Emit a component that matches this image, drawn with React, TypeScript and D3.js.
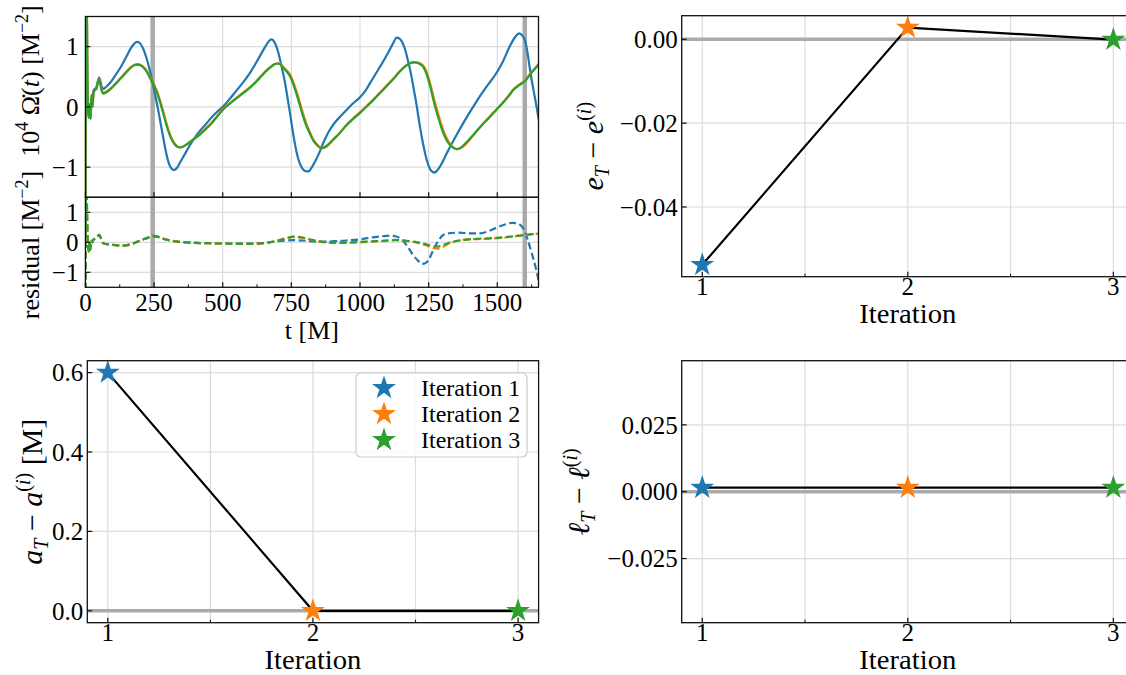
import React from 'react';
import * as d3 from 'd3';

const FONT = "'Liberation Serif', 'Times New Roman', Tinos, 'DejaVu Serif', 'Noto Serif', 'FreeSerif', serif";
const COLORS = ['#1f77b4', '#ff7f0e', '#2ca02c'];

// ---------- top-left: 10^4 dOmega/dt vs t ----------
const tBlue = [0, 3, 7, 10, 13, 16, 19, 22, 26, 30, 35, 40, 45, 50, 55, 60, 65, 75, 90, 110, 130, 150, 165, 178, 188, 198, 210, 222, 235, 245, 255, 265, 275, 285, 295, 305, 315, 322, 332, 345, 360, 380, 400, 417, 440, 460, 480, 500, 525, 550, 575, 600, 620, 640, 655, 668, 678, 688, 698, 708, 718, 727, 735, 745, 755, 765, 775, 785, 795, 805, 812, 822, 835, 850, 866, 885, 905, 930, 951, 975, 1000, 1020, 1036, 1060, 1085, 1105, 1120, 1134, 1145, 1155, 1165, 1175, 1185, 1194, 1206, 1218, 1230, 1243, 1255, 1265, 1271, 1280, 1295, 1316, 1345, 1376, 1405, 1437, 1465, 1498, 1520, 1546, 1565, 1580, 1592, 1601, 1610, 1618, 1625, 1635, 1643, 1650, 1660];
const omegaBlue = [-3, 3, 0.6, -0.05, -0.15, 0.05, -0.15, 0.2, 0.1, 0.28, 0.3, 0.33, 0.42, 0.49, 0.42, 0.33, 0.3, 0.33, 0.4, 0.53, 0.67, 0.84, 0.97, 1.05, 1.08, 1.06, 0.97, 0.82, 0.6, 0.4, 0.18, -0.05, -0.3, -0.55, -0.78, -0.95, -1.03, -1.045, -1.02, -0.92, -0.8, -0.64, -0.5, -0.4, -0.28, -0.17, -0.08, 0.0, 0.13, 0.27, 0.41, 0.57, 0.72, 0.88, 1.0, 1.09, 1.12, 1.08, 0.97, 0.8, 0.6, 0.4, 0.18, -0.1, -0.4, -0.66, -0.86, -0.98, -1.05, -1.07, -1.07, -1.02, -0.92, -0.78, -0.6, -0.42, -0.28, -0.15, -0.05, 0.06, 0.16, 0.27, 0.39, 0.57, 0.76, 0.92, 1.05, 1.15, 1.13, 1.06, 0.94, 0.76, 0.56, 0.34, 0.03, -0.32, -0.62, -0.88, -1.03, -1.08, -1.09, -1.06, -0.96, -0.77, -0.52, -0.27, -0.05, 0.18, 0.36, 0.57, 0.75, 1.01, 1.16, 1.22, 1.18, 1.1, 0.9, 0.65, 0.45, 0.2, 0.0, -0.18, -0.4];

const tFit = [0, 3, 7, 10, 13, 16, 19, 22, 26, 30, 35, 40, 45, 50, 55, 60, 65, 75, 90, 110, 130, 150, 165, 178, 190, 200, 212, 225, 235, 245, 255, 265, 275, 285, 295, 305, 315, 325, 335, 345, 355, 370, 390, 417, 440, 460, 480, 500, 525, 550, 575, 600, 625, 645, 660, 675, 690, 700, 708, 718, 730, 745, 755, 765, 775, 782, 792, 805, 818, 830, 845, 858, 866, 880, 900, 925, 951, 975, 1000, 1025, 1050, 1073, 1100, 1125, 1146, 1165, 1180, 1192, 1202, 1215, 1231, 1242, 1255, 1267, 1280, 1292, 1303, 1315, 1327, 1340, 1352, 1365, 1385, 1413, 1440, 1470, 1498, 1525, 1545, 1558, 1580, 1601, 1625, 1650, 1660];
const omegaOrange = [-3, 3, 0.5, -0.1, -0.18, 0.0, -0.2, 0.15, 0.0, 0.25, 0.28, 0.3, 0.4, 0.46, 0.37, 0.27, 0.23, 0.25, 0.3, 0.39, 0.49, 0.59, 0.66, 0.7, 0.71, 0.7, 0.66, 0.59, 0.5, 0.42, 0.32, 0.21, 0.06, -0.1, -0.27, -0.42, -0.53, -0.61, -0.66, -0.67, -0.66, -0.62, -0.55, -0.45, -0.35, -0.26, -0.15, -0.04, 0.06, 0.15, 0.24, 0.33, 0.44, 0.54, 0.61, 0.67, 0.71, 0.72, 0.72, 0.68, 0.62, 0.54, 0.44, 0.31, 0.17, 0.06, -0.1, -0.28, -0.42, -0.54, -0.63, -0.68, -0.68, -0.65, -0.56, -0.44, -0.3, -0.19, -0.09, 0.02, 0.13, 0.24, 0.37, 0.49, 0.6, 0.68, 0.72, 0.74, 0.74, 0.73, 0.68, 0.59, 0.4, 0.18, -0.04, -0.23, -0.38, -0.51, -0.61, -0.67, -0.7, -0.69, -0.62, -0.47, -0.32, -0.17, -0.035, 0.1, 0.21, 0.29, 0.37, 0.44, 0.58, 0.71, 0.77];
const omegaGreen = [-3, 3, 0.5, -0.1, -0.18, 0.0, -0.2, 0.15, 0.0, 0.25, 0.28, 0.3, 0.4, 0.45, 0.36, 0.26, 0.22, 0.24, 0.29, 0.38, 0.48, 0.58, 0.65, 0.69, 0.7, 0.69, 0.65, 0.57, 0.48, 0.4, 0.3, 0.18, 0.03, -0.13, -0.3, -0.44, -0.55, -0.62, -0.66, -0.67, -0.66, -0.62, -0.55, -0.46, -0.36, -0.27, -0.16, -0.05, 0.05, 0.14, 0.23, 0.32, 0.43, 0.53, 0.6, 0.66, 0.71, 0.72, 0.71, 0.66, 0.6, 0.51, 0.4, 0.27, 0.12, 0.01, -0.15, -0.32, -0.45, -0.56, -0.64, -0.68, -0.68, -0.64, -0.55, -0.44, -0.3, -0.2, -0.1, 0.01, 0.12, 0.23, 0.36, 0.48, 0.59, 0.67, 0.72, 0.74, 0.74, 0.72, 0.66, 0.55, 0.35, 0.12, -0.1, -0.28, -0.43, -0.55, -0.63, -0.68, -0.7, -0.68, -0.6, -0.46, -0.32, -0.18, -0.045, 0.09, 0.2, 0.28, 0.36, 0.43, 0.57, 0.7, 0.76];

const tRes = [0, 3, 6, 9, 12, 15, 18, 21, 25, 30, 38, 45, 50, 56, 62, 70, 85, 100, 115, 130, 150, 175, 200, 225, 245, 260, 280, 310, 350, 400, 450, 500, 550, 600, 640, 670, 700, 730, 760, 790, 830, 870, 910, 950, 1000, 1040, 1080, 1110, 1130, 1150, 1170, 1190, 1210, 1225, 1238, 1250, 1265, 1285, 1300, 1320, 1360, 1400, 1437, 1470, 1500, 1530, 1555, 1575, 1595, 1610, 1625, 1640, 1650, 1660];
const resBlue = [-3, 3, 1.0, -0.1, -0.3, 0.0, -0.25, 0.05, 0.0, 0.1, 0.12, 0.2, 0.25, 0.15, 0.0, -0.05, -0.07, -0.08, -0.1, -0.1, -0.09, -0.03, 0.06, 0.15, 0.22, 0.2, 0.13, 0.06, 0.01, -0.02, -0.03, -0.04, -0.04, -0.04, -0.03, 0.0, 0.04, 0.06, 0.07, 0.06, 0.03, 0.02, 0.04, 0.06, 0.1, 0.16, 0.2, 0.22, 0.2, 0.1, -0.1, -0.38, -0.6, -0.72, -0.7, -0.58, -0.3, 0.05, 0.22, 0.3, 0.32, 0.3, 0.3, 0.38, 0.5, 0.6, 0.65, 0.62, 0.45, 0.1, -0.35, -0.85, -1.25, -1.6];
const resOrange = [-3, 3, 1.0, -0.1, -0.3, 0.0, -0.25, 0.05, 0.0, 0.1, 0.12, 0.2, 0.26, 0.15, 0.0, -0.05, -0.07, -0.09, -0.1, -0.11, -0.1, -0.04, 0.06, 0.14, 0.2, 0.19, 0.13, 0.06, 0.01, -0.02, -0.03, -0.04, -0.05, -0.05, -0.04, 0.0, 0.06, 0.14, 0.18, 0.15, 0.06, 0.0, -0.02, -0.02, 0.0, 0.02, 0.04, 0.06, 0.07, 0.06, 0.04, 0.02, -0.02, -0.05, -0.09, -0.14, -0.19, -0.21, -0.16, -0.06, 0.06, 0.1, 0.11, 0.12, 0.14, 0.16, 0.19, 0.21, 0.23, 0.25, 0.27, 0.28, 0.28, 0.28];
const resGreen = [-3, 3, 1.0, -0.1, -0.3, 0.0, -0.25, 0.05, 0.0, 0.1, 0.12, 0.2, 0.25, 0.15, 0.0, -0.05, -0.07, -0.09, -0.1, -0.11, -0.1, -0.04, 0.06, 0.14, 0.2, 0.19, 0.13, 0.06, 0.01, -0.02, -0.03, -0.04, -0.05, -0.05, -0.04, 0.0, 0.05, 0.13, 0.19, 0.16, 0.07, 0.01, -0.01, -0.01, 0.01, 0.03, 0.05, 0.07, 0.08, 0.07, 0.05, 0.03, 0.0, -0.03, -0.06, -0.09, -0.13, -0.14, -0.1, -0.03, 0.06, 0.1, 0.12, 0.13, 0.15, 0.17, 0.2, 0.22, 0.24, 0.26, 0.27, 0.28, 0.28, 0.28];

const markerTimes = [245, 1600];
const timeTicks = [0, 250, 500, 750, 1000, 1250, 1500];
const timeMinorTicks = [125, 375, 625, 875, 1125, 1375, 1625];
const omegaTicks = [-1, 0, 1];

// ---------- iteration panels ----------
const iterations = [1, 2, 3];
const iterMinor = [1.5, 2.5];
const legendLabels = ['Iteration 1', 'Iteration 2', 'Iteration 3'];
const eDiff = [-0.0538, 0.0028, -0.0001];
const aDiff = [0.6, 0.0, 0.0];
const lDiff = [0.0015, 0.0015, 0.0015];
const eTicks = [-0.04, -0.02, 0.0];
const aTicks = [0.0, 0.2, 0.4, 0.6];
const lTicks = [-0.025, 0.0, 0.025];
const lLimits = [-0.049, 0.049];

const GRID = '#dcdcdc';
const ZERO = '#aaaaaa';
const TICK_FS = 25;
const LABEL_FS = 27;

function starPath(cx: number, cy: number, R: number) {
  const r = R * 0.382;
  let d = '';
  for (let k = 0; k < 10; k++) {
    const rad = k % 2 === 0 ? R : r;
    const ang = -Math.PI / 2 + (k * Math.PI) / 5;
    d += (k ? 'L' : 'M') + (cx + rad * Math.cos(ang)).toFixed(2) + ',' + (cy + rad * Math.sin(ang)).toFixed(2);
  }
  return d + 'Z';
}

function marginDomain(vals: number[]) {
  const ext = d3.extent([...vals, 0]) as [number, number];
  const pad = (ext[1] - ext[0]) * 0.05;
  return [ext[0] - pad, ext[1] + pad];
}

const T = (props: any) => <text {...props} style={{ fontFamily: FONT }} />;

function WavePanel() {
  const x = d3.scaleLinear().domain([0, 1650]).range([85.4, 538.5]);
  const yU = d3.scaleLinear().domain([-1.5, 1.5]).range([197.3, 16.5]);
  const yL = d3.scaleLinear().domain([-1.5, 1.5]).range([287.3, 197.3]);
  const lineU = d3.line<[number, number]>().x(d => x(d[0])).y(d => yU(d[1])).curve(d3.curveMonotoneX);
  const lineL = d3.line<[number, number]>().x(d => x(d[0])).y(d => yL(d[1])).curve(d3.curveMonotoneX);
  const zip = (ts: number[], vs: number[]) => ts.map((t, i) => [t, vs[i]] as [number, number]);
  const upper = [zip(tBlue, omegaBlue), zip(tFit, omegaOrange), zip(tFit, omegaGreen)];
  const lower = [zip(tRes, resBlue), zip(tRes, resOrange), zip(tRes, resGreen)];
  const [xa, xb] = x.range();
  return (
    <g>
      <defs>
        <clipPath id="clipU"><rect x={xa} y={yU(1.5)} width={xb - xa} height={yU(-1.5) - yU(1.5)} /></clipPath>
        <clipPath id="clipL"><rect x={xa} y={yL(1.5)} width={xb - xa} height={yL(-1.5) - yL(1.5)} /></clipPath>
      </defs>
      {[yU, yL].map((y, pi) => (
        <g key={pi}>
          {timeTicks.slice(1).map(t => <line key={'gx' + t} x1={x(t)} x2={x(t)} y1={y(1.5)} y2={y(-1.5)} stroke={GRID} strokeWidth={1.2} />)}
          {omegaTicks.map(v => <line key={'gy' + v} x1={xa} x2={xb} y1={y(v)} y2={y(v)} stroke={GRID} strokeWidth={1.2} />)}
          {markerTimes.map(t => <line key={'m' + t} x1={x(t)} x2={x(t)} y1={y(1.5)} y2={y(-1.5)} stroke={ZERO} strokeWidth={4.5} />)}
        </g>
      ))}
      <g clipPath="url(#clipU)">
        {upper.map((d, i) => <path key={i} d={lineU(d) || ''} fill="none" stroke={COLORS[i]} strokeWidth={2.2} />)}
      </g>
      <g clipPath="url(#clipL)">
        {lower.map((d, i) => <path key={i} d={lineL(d) || ''} fill="none" stroke={COLORS[i]} strokeWidth={2.2} strokeDasharray="7 3.5" />)}
      </g>
      {[yU, yL].map((y, pi) => (
        <g key={'ax' + pi}>
          <rect x={xa} y={y(1.5)} width={xb - xa} height={y(-1.5) - y(1.5)} fill="none" stroke="#111" strokeWidth={1.3} />
          {timeTicks.map(t => <line key={'tx' + t} x1={x(t)} x2={x(t)} y1={y(-1.5)} y2={y(-1.5) - 5} stroke="#111" strokeWidth={1.2} />)}
          {pi === 1 && timeMinorTicks.map(t => <line key={'mt' + t} x1={x(t)} x2={x(t)} y1={y(-1.5)} y2={y(-1.5) - 3} stroke="#111" strokeWidth={1} />)}
          {omegaTicks.map(v => <line key={'ty' + v} x1={xa} x2={xa + 5} y1={y(v)} y2={y(v)} stroke="#111" strokeWidth={1.2} />)}
          {omegaTicks.map(v => (
            <T key={'ly' + v} x={xa - 7} y={y(v)} dy="0.35em" textAnchor="end" fontSize={TICK_FS}>{d3.format('d')(v)}</T>
          ))}
        </g>
      ))}
      {timeTicks.map(t => (
        <T key={'lx' + t} x={x(t)} y={311} textAnchor="middle" fontSize={TICK_FS}>{t}</T>
      ))}
      <T x={(xa + xb) / 2} y={339} textAnchor="middle" fontSize={26}>t [M]</T>
      <T transform="translate(39,81) rotate(-90)" textAnchor="middle" fontSize={26}>
        <tspan>10</tspan><tspan fontSize={18} dy={-11}>4</tspan><tspan dy={11}> Ω̇(</tspan><tspan fontStyle="italic">t</tspan><tspan>) [M</tspan><tspan fontSize={18} dy={-11}>−2</tspan><tspan dy={11}>]</tspan>
      </T>
      <T transform="translate(39,245) rotate(-90)" textAnchor="middle" fontSize={26}>
        <tspan>residual [M</tspan><tspan fontSize={18} dy={-11}>−2</tspan><tspan dy={11}>]</tspan>
      </T>
    </g>
  );
}

type IterProps = {
  x0: number; x1: number; y0: number; y1: number;
  vals: number[]; yDom: number[]; yTicks: number[]; fmt: string;
  label: React.ReactNode; labelX: number; legend?: boolean; id: string;
};

function IterPanel({ x0, x1, y0, y1, vals, yDom, yTicks, fmt, label, labelX, legend, id }: IterProps) {
  const x = d3.scaleLinear().domain([0.9, 3.1]).range([x0, x1]);
  const y = d3.scaleLinear().domain(yDom).range([y1, y0]);
  const pts = iterations.map((it, i) => [it, vals[i]] as [number, number]);
  const line = d3.line<[number, number]>().x(d => x(d[0])).y(d => y(d[1]));
  const f = d3.format(fmt);
  const cy = (y0 + y1) / 2;
  return (
    <g>
      <defs><clipPath id={id}><rect x={x0} y={y0} width={x1 - x0} height={y1 - y0} /></clipPath></defs>
      {[...iterations, ...iterMinor].map(v => <line key={'gx' + v} x1={x(v)} x2={x(v)} y1={y0} y2={y1} stroke={GRID} strokeWidth={1.2} />)}
      {yTicks.map(v => <line key={'gy' + v} x1={x0} x2={x1} y1={y(v)} y2={y(v)} stroke={GRID} strokeWidth={1.2} />)}
      <g clipPath={`url(#${id})`}>
        <line x1={x0} x2={x1} y1={y(0)} y2={y(0)} stroke={ZERO} strokeWidth={3.5} />
        <path d={line(pts) || ''} fill="none" stroke="#000" strokeWidth={2.2} />
      </g>
      {pts.map((p, i) => <path key={'s' + i} d={starPath(x(p[0]), y(p[1]), 12.6)} fill={COLORS[i]} />)}
      <rect x={x0} y={y0} width={x1 - x0} height={y1 - y0} fill="none" stroke="#111" strokeWidth={1.3} />
      {iterations.map(v => <line key={'tx' + v} x1={x(v)} x2={x(v)} y1={y1} y2={y1 - 5} stroke="#111" strokeWidth={1.2} />)}
      {iterMinor.map(v => <line key={'mx' + v} x1={x(v)} x2={x(v)} y1={y1} y2={y1 - 3} stroke="#111" strokeWidth={1} />)}
      {yTicks.map(v => <line key={'ty' + v} x1={x0} x2={x0 + 5} y1={y(v)} y2={y(v)} stroke="#111" strokeWidth={1.2} />)}
      {yTicks.map(v => (
        <T key={'ly' + v} x={x0 - 4} y={y(v)} dy="0.35em" textAnchor="end" fontSize={TICK_FS}>{f(v)}</T>
      ))}
      {iterations.map(v => (
        <T key={'lx' + v} x={x(v)} y={y1 + 18.5} textAnchor="middle" fontSize={TICK_FS}>{v}</T>
      ))}
      <T x={x(2)} y={y1 + 46.5} textAnchor="middle" fontSize={LABEL_FS} textLength={97} lengthAdjust="spacingAndGlyphs">Iteration</T>
      <T transform={`translate(${labelX},${cy}) rotate(-90)`} textAnchor="middle" fontSize={30}>{label}</T>
      {legend && (
        <g>
          <rect x={356} y={373} width={171} height={84} rx={5} fill="#fff" fillOpacity={0.8} stroke="#cccccc" strokeWidth={1.2} />
          {legendLabels.map((s, i) => (
            <g key={s}>
              <path d={starPath(384, 388 + i * 26, 12.6)} fill={COLORS[i]} />
              <T x={421} y={388 + i * 26} dy="0.35em" fontSize={24}>{s}</T>
            </g>
          ))}
        </g>
      )}
    </g>
  );
}

function diffLabel(sym: string, unit?: string) {
  return (
    <>
      <tspan fontStyle="italic">{sym}</tspan>
      <tspan fontStyle="italic" fontSize={20} dy={6}>T</tspan>
      <tspan dy={-6}>{' − '}</tspan>
      <tspan fontStyle="italic">{sym}</tspan>
      <tspan fontSize={20} dy={-12}>(</tspan>
      <tspan fontSize={20} fontStyle="italic">i</tspan>
      <tspan fontSize={20}>)</tspan>
      {unit ? <tspan dy={12}>{' ' + unit}</tspan> : null}
    </>
  );
}

export default function App() {
  return (
    <svg width={1126} height={675} viewBox="0 0 1126 675" style={{ position: 'absolute', left: 0, top: 0, background: '#fff', fontFamily: FONT }}>
      <rect x={0} y={0} width={1126} height={675} fill="#fff" />
      <WavePanel />
      <IterPanel id="cE" x0={681.7} x1={1133.9} y0={15.7} y1={276.7} vals={eDiff} yDom={marginDomain(eDiff)}
        yTicks={eTicks} fmt=".2f" label={diffLabel('e')} labelX={603} />
      <IterPanel id="cA" x0={87.3} x1={538.6} y0={360.7} y1={622.7} vals={aDiff} yDom={marginDomain(aDiff)}
        yTicks={aTicks} fmt=".1f" label={diffLabel('a', '[M]')} labelX={42} legend />
      <IterPanel id="cL" x0={681.7} x1={1133.9} y0={360.7} y1={622.7} vals={lDiff} yDom={lLimits}
        yTicks={lTicks} fmt=".3f" label={diffLabel('ℓ')} labelX={589} />
    </svg>
  );
}
